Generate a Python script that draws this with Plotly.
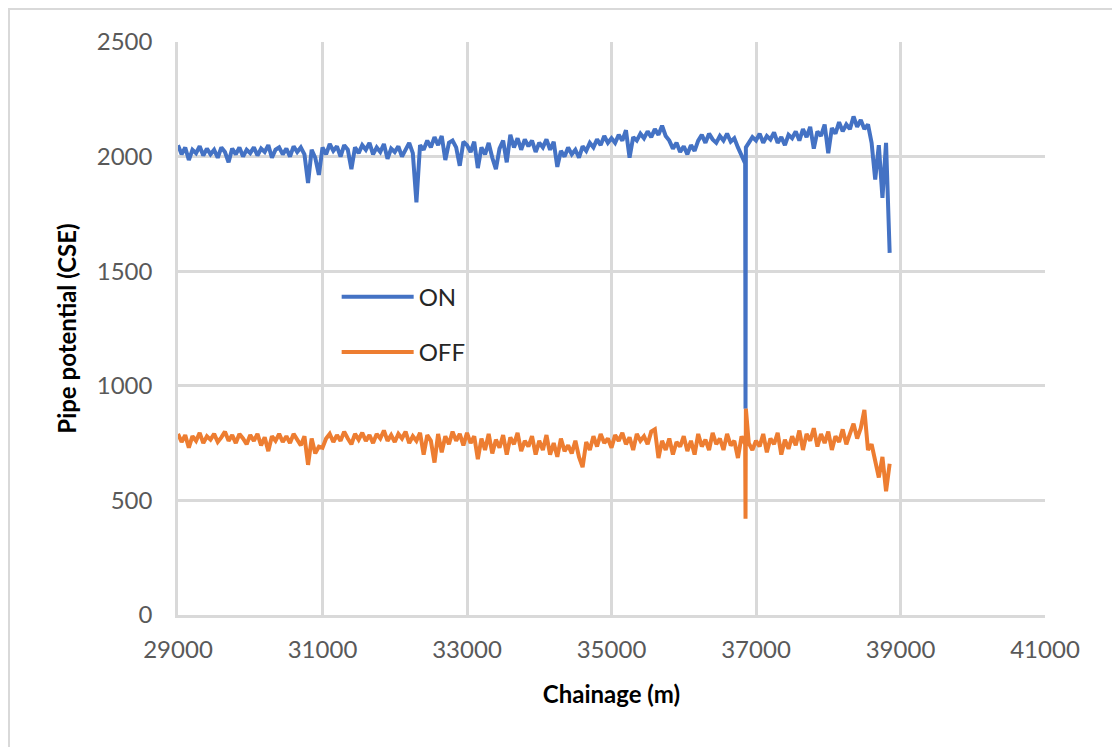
import numpy as np
import plotly.graph_objects as go

# Chainage sampled every 50 m, with two extra readings at the 36855-36860 m fault
chainage = list(range(29000, 36851, 50)) + [36855, 36860] + list(range(36900, 38851, 50))

on_values = [
    2050, 2010, 2040, 1985, 2030, 2015, 2045, 2005, 2035, 2010,
    2030, 1995, 2040, 2020, 1975, 2035, 2010, 2040, 2000, 2030,
    2015, 2040, 2005, 2035, 2020, 2050, 1995, 2030, 2040, 2010,
    2035, 2000, 2045, 2020, 2040, 2010, 1885, 2030, 1995, 1920,
    2040, 2010, 2055, 2025, 2045, 2000, 2050, 2030, 1945, 2040,
    2015, 2050, 2030, 2060, 2010, 2040, 2020, 2055, 1990, 2035,
    2020, 2045, 2000, 2035, 2060, 2015, 1800, 2050, 2030, 2070,
    2040, 2085, 2050, 2090, 1985, 2060, 2070, 2040, 1960, 2065,
    2050, 2020, 2065, 1950, 2040, 2010, 2060, 1995, 1945, 2035,
    2070, 1975, 2095, 2040, 2080, 2030, 2075, 2045, 2070, 2020,
    2060, 2040, 2075, 2030, 2065, 1955, 2025, 2000, 2040, 2010,
    2030, 1995, 2045, 2025, 2060, 2040, 2075, 2050, 2090, 2060,
    2080, 2060, 2095, 2070, 2115, 1995, 2085, 2070, 2100, 2080,
    2110, 2085, 2120, 2095, 2135, 2090, 2070, 2035, 2060, 2020,
    2045, 2010, 2050, 2025, 2070, 2095, 2060, 2100, 2075, 2060,
    2090, 2070, 2100, 2065, 2080, 2040, 2000, 1970, 900, 2040, 2060, 2085,
    2070, 2100, 2060, 2090, 2075, 2105, 2060, 2085, 2050, 2095,
    2080, 2110, 2070, 2120, 2085, 2130, 2035, 2110, 2090, 2140,
    2015, 2125, 2100, 2150, 2110, 2140, 2120, 2175, 2130, 2160,
    2120, 2140, 2060, 1900, 2050, 1820, 2060, 1580,
]

off_values = [
    790, 755, 785, 730, 780, 760, 795, 750, 780, 765,
    790, 755, 775, 800, 760, 785, 750, 790, 770, 745,
    785, 760, 790, 740, 775, 715, 780, 760, 790, 755,
    780, 750, 790, 765, 740, 780, 655, 770, 705, 735,
    730, 770, 790, 755, 785, 760, 800, 770, 745, 790,
    765, 795, 760, 785, 750, 790, 770, 805, 760, 785,
    755, 790, 770, 800, 750, 780, 760, 795, 700, 785,
    760, 665, 790, 710, 780, 745, 800, 760, 790, 740,
    795, 750, 780, 680, 770, 720, 790, 705, 765, 730,
    785, 700, 775, 745, 795, 715, 760, 735, 780, 700,
    760, 720, 785, 700, 750, 690, 770, 715, 740, 705,
    760, 690, 645, 755, 720, 780, 735, 790, 750, 770,
    730, 785, 760, 795, 745, 775, 720, 790, 760, 780,
    745, 800, 810, 685, 760, 720, 770, 700, 755, 735,
    780, 715, 760, 700, 790, 735, 765, 720, 795, 745,
    770, 720, 790, 740, 760, 685, 780, 745, 420, 900, 750, 720,
    760, 735, 790, 710, 770, 745, 795, 700, 765, 725,
    780, 740, 805, 720, 790, 760, 815, 735, 790, 750,
    800, 720, 780, 755, 810, 745, 790, 835, 770, 815,
    895, 720, 745, 680, 600, 690, 540, 660,
]

x_ticks = [29000, 31000, 33000, 35000, 37000, 39000, 41000]
y_ticks = [0, 500, 1000, 1500, 2000, 2500]

FONT = "Lato"
GRID = "#D9D9D9"
TICK_COLOR = "#595959"

W, H = 1112, 739
L, T, PW, PH = 170, 34, 867, 573

fig = go.Figure()
fig.add_trace(go.Scatter(
    x=chainage, y=on_values, mode="lines", name="ON",
    line=dict(color="#4472C4", width=4), legendgroup="on",
))
fig.add_trace(go.Scatter(
    x=chainage, y=off_values, mode="lines", name="OFF",
    line=dict(color="#ED7D31", width=4), legendgroup="off",
))

fig.update_layout(
    width=W, height=H,
    margin=dict(l=L, r=W - L - PW, t=T, b=H - T - PH),
    paper_bgcolor="white", plot_bgcolor="white",
    font=dict(family=FONT, size=24, color=TICK_COLOR),
    showlegend=True,
    legend=dict(
        x=0.183, y=0.594, xanchor="left", yanchor="top",
        bgcolor="rgba(0,0,0,0)", font=dict(family=FONT, size=24, color="#262626"),
        traceorder="grouped", tracegroupgap=21, itemwidth=72,
    ),
    shapes=[dict(
        type="rect", xref="paper", yref="paper",
        x0=(1 - L) / PW, x1=1.3, y0=-0.6, y1=1 + (T - 1) / PH,
        line=dict(color="#D9D9D9", width=2), fillcolor="rgba(0,0,0,0)", layer="below",
    )],
)

fig.update_xaxes(
    range=[29000, 41000], tickvals=x_ticks, ticktext=[str(v) for v in x_ticks],
    showgrid=True, gridcolor=GRID, gridwidth=2.5,
    showline=True, linecolor=GRID, linewidth=2.5,
    zeroline=False, ticks="", ticklabelstandoff=11,
    tickfont=dict(family=FONT, size=24, color=TICK_COLOR),
    title=dict(text="<b>Chainage (m)</b>", font=dict(family=FONT, size=24, color="#000000"), standoff=25),
)
fig.update_yaxes(
    range=[0, 2500], tickvals=y_ticks, ticktext=[str(v) for v in y_ticks],
    showgrid=True, gridcolor=GRID, gridwidth=2.5,
    showline=True, linecolor=GRID, linewidth=2.5,
    zeroline=False, ticks="", ticklabelstandoff=18,
    tickfont=dict(family=FONT, size=24, color=TICK_COLOR),
    title=dict(text="<b>Pipe potential (CSE)</b>", font=dict(family=FONT, size=24, color="#000000"), standoff=14),
)

fig.write_html("out.html")
